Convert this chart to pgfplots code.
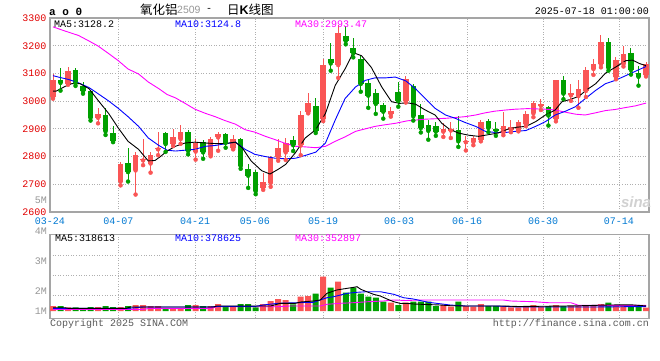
\documentclass[border=0pt]{standalone}
\usepackage{fontspec}
\setmainfont{Liberation Mono}
\newfontfamily\cjk{Noto Sans CJK SC}
\newfontfamily\sans{Liberation Sans}
\usepackage{pgfplots}
\pgfplotsset{compat=1.18}
\usepackage{pgfplotstable}

\definecolor{cup}{RGB}{250,85,85}
\definecolor{cdn}{RGB}{0,160,0}
\definecolor{gridc}{RGB}{175,175,175}
\definecolor{bordc}{RGB}{165,165,165}
\definecolor{tickred}{RGB}{225,0,0}
\definecolor{dateblue}{RGB}{0,120,210}
\definecolor{maM}{RGB}{255,0,255}
\definecolor{maB}{RGB}{0,0,255}
\definecolor{volgray}{RGB}{150,150,150}

% x o h l c v  (v in thousand lots)
\pgfplotstableread{
x o h l c v
0 3015 3098 3009 3078 315
2 3063 3122 3059 3110 233
6 2940 2974 2920 2955 252
9 2710 2780 2696 2773 252
11 2750 2818 2663 2806 378
12 2786 2864 2769 2793 378
13 2775 2817 2742 2807 315
14 2826 2888 2805 2831 315
16 2845 2900 2838 2869 170
17 2863 2915 2846 2888 170
19 2818 2864 2789 2849 378
21 2806 2872 2801 2864 315
22 2869 2890 2821 2881 441
24 2830 2877 2826 2864 315
28 2688 2742 2680 2709 441
29 2705 2802 2691 2798 630
30 2797 2864 2785 2830 756
31 2815 2868 2788 2850 693
33 2840 2965 2805 2950 901
34 2960 3031 2956 2992 945
36 2936 3152 2928 3130 2161
38 3130 3276 3084 3246 1846
45 2953 2980 2944 2965 523
47 3000 3090 2995 3080 523
52 2890 2920 2871 2900 378
53 2894 2923 2867 2900 271
55 2852 2873 2822 2858 315
56 2853 2876 2841 2866 271
57 2861 2932 2855 2924 441
60 2887 2960 2877 2909 315
61 2897 2932 2888 2905 233
62 2894 2932 2891 2923 233
63 2917 2963 2910 2953 315
64 2956 3001 2942 2992 378
65 2983 3009 2968 2989 271
67 2937 3078 2927 3075 378
69 3021 3063 3001 3028 315
70 3018 3077 2976 3045 315
71 3037 3122 3015 3113 315
72 3116 3152 3095 3134 315
73 3133 3240 3122 3213 441
75 3086 3160 3079 3147 315
76 3134 3199 3125 3169 378
79 3094 3140 3089 3133 208
}\up

\pgfplotstableread{
x o h l c v
1 3077 3120 3038 3066 315
3 3114 3121 3055 3065 233
4 3054 3070 3027 3036 170
5 3037 3041 2930 2940 252
7 2949 2974 2878 2891 315
8 2884 2909 2852 2856 252
10 2776 2830 2710 2744 315
15 2886 2890 2817 2845 170
18 2887 2896 2808 2820 378
20 2853 2861 2792 2815 315
23 2880 2886 2832 2849 315
25 2862 2866 2756 2766 441
26 2756 2773 2687 2731 441
27 2745 2752 2664 2675 233
32 2860 2875 2820 2841 410
35 2983 3013 2885 2894 1090
37 3152 3209 3110 3136 1468
39 3234 3272 3205 3217 1153
40 3193 3229 3158 3172 1468
41 3151 3167 3034 3062 1090
42 3064 3081 2976 3020 901
43 3029 3044 2954 2990 838
44 2987 2995 2937 2962 586
46 3034 3069 2980 3000 378
48 3055 3063 2930 2945 586
49 2950 2989 2887 2903 586
50 2913 2932 2861 2893 586
51 2911 2924 2875 2890 315
54 2897 2948 2835 2855 586
58 2930 2935 2888 2903 315
59 2900 2926 2875 2894 315
66 2979 2983 2912 2948 315
68 3077 3089 3007 3027 315
74 3212 3229 3110 3120 523
77 3175 3191 3096 3112 378
78 3102 3126 3056 3088 378
}\dn

\pgfplotstableread{
x y
0 3036
0.4 3036
1.6 3053
2.5 3063
3.6 3063
4.8 3045
6.0 3003
7.4 2956
8.7 2903
10 2855
11.4 2826
12.7 2784
13.6 2786
14.4 2802
15.2 2820
16.3 2837
17.6 2849
18.9 2852
20.3 2849
21.6 2847
22.9 2847
24.3 2852
25.2 2832
26.4 2784
27.8 2749
28.9 2737
30.0 2754
31 2772
32.3 2814
33.6 2867
35 2897
36.3 2956
37.6 3057
38.9 3116
40.0 3175
41.1 3164
42.4 3122
43.8 3051
45.1 2998
46.2 2992
47.2 2994
48.3 2989
49.6 2968
50.9 2950
51.8 2920
52.8 2899
54.0 2885
55.4 2877
56.7 2873
58.0 2879
59.3 2885
60.6 2899
61.8 2906
63 2909
64.3 2926
65.6 2950
66.9 2968
67.8 2998
68.9 3006
70.1 3018
71.0 3039
72.3 3063
73.6 3101
74.9 3122
76.3 3146
77.2 3148
78.1 3136
79 3128
}\maF

\pgfplotstableread{
x y
0 3092
0.7 3087
2.1 3078
3.4 3066
4.8 3049
6.0 3027
7.4 3001
8.7 2974
10 2944
11.4 2909
12.7 2867
14.1 2840
15.2 2823
16.3 2820
17.6 2823
18.9 2826
20.3 2837
21.6 2840
22.9 2846
24.3 2852
25.6 2826
26.9 2808
28.3 2800
29.6 2794
31 2792
32.3 2794
33.6 2804
35 2816
36.3 2849
37.6 2932
38.9 3009
40.3 3051
41.6 3075
42.9 3084
44.3 3084
45.6 3087
47 3073
48.3 3045
49.6 3009
50.9 2974
52.3 2950
53.6 2938
54.9 2923
56.3 2909
57.6 2891
58.9 2887
60.3 2887
61.6 2891
63 2894
64.3 2909
65.6 2926
66.9 2950
68.3 2964
69.6 2980
70.9 3009
72.3 3039
73.6 3063
74.9 3075
76.3 3092
77.6 3108
79 3125
}\maT

\pgfplotstableread{
x y
0 3268
1.6 3253
3.4 3237
4.8 3217
6.0 3199
7.4 3172
8.7 3146
10 3116
11.4 3098
12.7 3069
14.1 3045
15.2 3024
16.3 3012
17.6 2992
18.9 2971
20.3 2956
21.6 2944
22.9 2930
24.3 2917
25.6 2897
26.9 2888
28.3 2873
29.6 2861
31 2847
32.3 2837
33.6 2835
35 2832
36.3 2837
37.6 2855
38.9 2871
40.3 2891
41.6 2900
42.9 2909
44.3 2915
45.6 2920
47.2 2929
49.6 2935
52.3 2938
53.6 2941
54.9 2944
56.3 2950
57.6 2958
58.9 2964
60.3 2968
61.6 2971
63.2 2973
65.6 2971
66.9 2968
68.3 2960
69.6 2953
70.9 2950
72.3 2958
73.6 2966
74.9 2970
76.3 2977
77.6 2983
79 2993
}\maH

\pgfplotstableread{
x y
0 208
1.5 208
2 170
9.8 170
10.3 252
21.4 252
21.8 315
29 315
30.3 485
32.3 485
33 567
34.7 630
35.6 693
36.5 1115
37.8 1323
39.2 1430
40.1 1493
40.5 1531
41 1367
41.8 1216
42.7 1052
43.6 945
44.5 756
45.4 586
46.3 473
47.1 485
48 441
51.6 378
52.9 334
55 315
60 315
62 284
66 302
70 328
74 378
77 391
79 319
}\vmaF

\pgfplotstableread{
x y
0 170
10 170
12 252
21 252
22 296
27 296
28 378
30 485
32 517
34.7 548
35.6 693
36.5 838
37.4 901
38.3 1008
39.2 1115
40.5 1178
41.8 1216
43.6 1216
45.4 1052
46.7 838
48 756
50 548
52.9 378
55 315
59 315
62 252
72 252
76 271
79 279
}\vmaT

\pgfplotstableread{
x y
0 107
12 107
13 170
21 170
22 271
30 271
31.5 315
35.6 315
36.5 422
38.3 485
40 523
42 586
44 630
45.4 693
47 662
49 693
60 693
61 630
64 586
66 523
69 523
70 359
79 359
}\vmaH

\pgfplotsset{
  kbase/.style={
    scale only axis, width=599pt,
    xmin=-0.4, xmax=79.4,
    axis line style={bordc, line width=1.3pt},
    major tick length=0pt,
    xtick={-0.4,8.70,18.92,26.91,35.97,46.1,55.16,65.28,75.4},
    grid=major,
    major grid style={gridc, line width=0.8pt, dash pattern=on 1pt off 1.6pt},
    every tick label/.append style={font=\fontsize{10}{10}\selectfont},
    clip=true,
  }
}

\begin{document}
\begin{tikzpicture}
\path[use as bounding box] (0pt,0pt) rectangle (660pt,360pt);

% ---------------- price panel ----------------
\begin{axis}[kbase,
  at={(50pt,148pt)}, anchor=south west, height=194pt,
  ymin=2600, ymax=3300,
  ytick={2600,2700,...,3300},
  yticklabels={2600,2700,2800,2900,3000,3100,3200,3300},
  yticklabel style={text=tickred},
  xticklabels={03-24,04-07,04-21,05-06,05-19,06-03,06-16,06-30,07-14},
  xticklabel style={text=dateblue, yshift=-2pt},
]
% wicks
\addplot[cup, only marks, mark=none, forget plot,
  error bars/.cd, y dir=plus, y explicit, error mark=none,
  error bar style={cup, line width=1pt, solid}]
  table[x=x, y=l, y error plus expr=\thisrow{h}-\thisrow{l}] {\up};
\addplot[cdn, only marks, mark=none, forget plot,
  error bars/.cd, y dir=plus, y explicit, error mark=none,
  error bar style={cdn, line width=1pt, solid}]
  table[x=x, y=l, y error plus expr=\thisrow{h}-\thisrow{l}] {\dn};
% bodies
\addplot[cup, only marks, mark=none, forget plot,
  error bars/.cd, y dir=plus, y explicit, error mark=none,
  error bar style={cup, line width=5.6pt, solid}]
  table[x=x, y=o, y error plus expr=\thisrow{c}-\thisrow{o}] {\up};
\addplot[cdn, only marks, mark=none, forget plot,
  error bars/.cd, y dir=plus, y explicit, error mark=none,
  error bar style={cdn, line width=5.6pt, solid}]
  table[x=x, y=c, y error plus expr=\thisrow{o}-\thisrow{c}] {\dn};
% moving averages
\addplot[maM, line width=0.9pt, mark=none] table[x=x,y=y] {\maH};
\addplot[maB, line width=0.9pt, mark=none] table[x=x,y=y] {\maT};
\addplot[black, line width=0.9pt, mark=none] table[x=x,y=y] {\maF};
\end{axis}

% ---------------- volume panel ----------------
\begin{axis}[kbase,
  at={(50pt,41.7pt)}, anchor=south west, height=84pt,
  ymin=-460, ymax=4832,
  ytick={1008,2249,3528},
  yticklabels={},
  xticklabels={},
]
\addplot[ybar, bar width=6pt, bar shift=0pt, fill=cup, draw=none, forget plot] table[x=x, y=v] {\up};
\addplot[ybar, bar width=6pt, bar shift=0pt, fill=cdn, draw=none, forget plot] table[x=x, y=v] {\dn};
\addplot[maM, line width=0.9pt, mark=none] table[x=x,y=y] {\vmaH};
\addplot[maB, line width=0.9pt, mark=none] table[x=x,y=y] {\vmaT};
\addplot[black, line width=0.9pt, mark=none] table[x=x,y=y] {\vmaF};
\end{axis}

% ---------------- texts ----------------
\begin{scope}[every node/.style={inner sep=0pt, font=\fontsize{10}{10}\selectfont}]
\node[anchor=west, font=\fontsize{11}{11}\selectfont\bfseries] at (49pt,348pt) {a o 0};
\node[anchor=west, font=\fontsize{12.5}{12.5}\cjk] at (140pt,350.5pt) {氧化铝};
\node[anchor=west, text=volgray, font=\fontsize{10.5}{10.5}\sans] at (177pt,350pt) {2509};
\node[anchor=west] at (206pt,350.5pt) {-};
\node[anchor=west, font=\fontsize{12.5}{12.5}\cjk] at (227pt,350.5pt) {日{\sans\bfseries K}线图};
\node[anchor=east] at (649pt,349pt) {2025-07-18 01:00:00};

\node[anchor=west, text=black] at (54pt,336pt) {MA5:3128.2};
\node[anchor=west, text=maB] at (175pt,336pt) {MA10:3124.8};
\node[anchor=west, text=maM] at (295pt,336pt) {MA30:2993.47};

\node[anchor=west, text=black] at (55pt,121.5pt) {MA5:318613};
\node[anchor=west, text=maB] at (175pt,121.5pt) {MA10:378625};
\node[anchor=west, text=maM] at (295pt,121.5pt) {MA30:352897};

\node[anchor=east, text=volgray] at (47pt,159.5pt) {5M};
\node[anchor=east, text=volgray] at (47pt,129pt) {4M};
\node[anchor=east, text=volgray] at (47pt,99.3pt) {3M};
\node[anchor=east, text=volgray] at (47pt,69.3pt) {2M};
\node[anchor=east, text=volgray] at (47pt,49pt) {1M};

\node[anchor=west, text=black!65] at (50pt,36pt) {Copyright 2025 SINA.COM};
\node[anchor=east, text=black!65] at (649pt,36pt) {http://finance.sina.com.cn};

\node[anchor=center, text=black!18, font=\fontsize{15}{15}\sans\bfseries\itshape] at (636pt,158pt) {sina};
\end{scope}
\end{tikzpicture}
\end{document}
